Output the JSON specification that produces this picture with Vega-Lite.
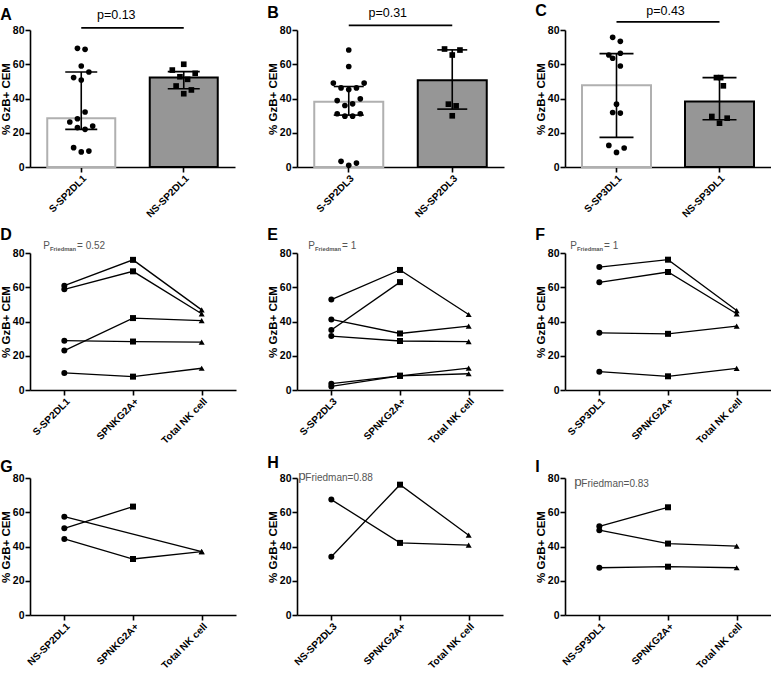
{
"$schema": "https://vega.github.io/schema/vega-lite/v6.json",
"padding": {"left": 0, "top": 2, "right": 0, "bottom": 0},
"background": "white",
"config": {
 "font": "Liberation Sans",
 "view": {"stroke": null},
 "axis": {"grid": false, "domainColor": "black", "domainWidth": 1.6, "tickColor": "black", "tickWidth": 1.6, "tickSize": 5, "labelFont": "Liberation Sans", "labelFontSize": 10.5, "labelFontWeight": "bold", "labelColor": "black", "titleFont": "Liberation Sans", "titleFontSize": 11.5, "titleFontWeight": "bold", "titleColor": "black", "labelPadding": 1},
 "axisX": {"labelAngle": -45, "labelFontSize": 10},
 "axisY": {"values": [0, 20, 40, 60, 80], "titlePadding": 1},
 "title": {"anchor": "start", "frame": "bounds", "fontSize": 16, "fontWeight": "bold", "font": "Liberation Sans", "color": "black", "offset": -2}
},
"resolve": {"scale": {"shape": "independent", "fill": "independent", "stroke": "independent", "xOffset": "independent"}},
"datasets": {
 "barsA": [{"group": "S-SP2DL1", "mean": 28.4, "lo": 22, "hi": 55.5}, {"group": "NS-SP2DL1", "mean": 52.2, "lo": 45.7, "hi": 55.7}],
 "ptsA": [
  {"group": "S-SP2DL1", "v": 69.3, "slot": -1}, {"group": "S-SP2DL1", "v": 68.7, "slot": 1}, {"group": "S-SP2DL1", "v": 59, "slot": 0},
  {"group": "S-SP2DL1", "v": 55.5, "slot": 2}, {"group": "S-SP2DL1", "v": 52.2, "slot": -2}, {"group": "S-SP2DL1", "v": 50.8, "slot": 0},
  {"group": "S-SP2DL1", "v": 32.1, "slot": 1}, {"group": "S-SP2DL1", "v": 28.2, "slot": -1}, {"group": "S-SP2DL1", "v": 26.3, "slot": -3},
  {"group": "S-SP2DL1", "v": 23.9, "slot": 3}, {"group": "S-SP2DL1", "v": 23, "slot": -1}, {"group": "S-SP2DL1", "v": 22, "slot": 1},
  {"group": "S-SP2DL1", "v": 11.3, "slot": -2}, {"group": "S-SP2DL1", "v": 9.3, "slot": 2}, {"group": "S-SP2DL1", "v": 8.8, "slot": 0},
  {"group": "NS-SP2DL1", "v": 60, "slot": 0}, {"group": "NS-SP2DL1", "v": 56.6, "slot": -3}, {"group": "NS-SP2DL1", "v": 54.7, "slot": 3},
  {"group": "NS-SP2DL1", "v": 52.7, "slot": -1}, {"group": "NS-SP2DL1", "v": 51.2, "slot": 1}, {"group": "NS-SP2DL1", "v": 47.3, "slot": -2},
  {"group": "NS-SP2DL1", "v": 45, "slot": 2}, {"group": "NS-SP2DL1", "v": 42.8, "slot": 0}
 ],
 "pA": [{"a": "S-SP2DL1", "b": "NS-SP2DL1", "ly": 81.2, "ty": 86.6, "label": "p=0.13"}],
 "barsB": [{"group": "S-SP2DL3", "mean": 38.1, "lo": 30.3, "hi": 47}, {"group": "NS-SP2DL3", "mean": 50.7, "lo": 33.8, "hi": 68.4}],
 "ptsB": [
  {"group": "S-SP2DL3", "v": 68.3, "slot": 0}, {"group": "S-SP2DL3", "v": 58.7, "slot": 0}, {"group": "S-SP2DL3", "v": 49, "slot": -4},
  {"group": "S-SP2DL3", "v": 46.2, "slot": -2}, {"group": "S-SP2DL3", "v": 45.2, "slot": 0}, {"group": "S-SP2DL3", "v": 46.2, "slot": 2},
  {"group": "S-SP2DL3", "v": 49, "slot": 4}, {"group": "S-SP2DL3", "v": 38.8, "slot": -3}, {"group": "S-SP2DL3", "v": 39.8, "slot": 3},
  {"group": "S-SP2DL3", "v": 35.9, "slot": -1}, {"group": "S-SP2DL3", "v": 36.9, "slot": 1}, {"group": "S-SP2DL3", "v": 31.1, "slot": -3},
  {"group": "S-SP2DL3", "v": 29.7, "slot": -1}, {"group": "S-SP2DL3", "v": 29.7, "slot": 1}, {"group": "S-SP2DL3", "v": 31.1, "slot": 3},
  {"group": "S-SP2DL3", "v": 3.3, "slot": -2}, {"group": "S-SP2DL3", "v": 2.3, "slot": 2}, {"group": "S-SP2DL3", "v": 1, "slot": 0},
  {"group": "NS-SP2DL3", "v": 68.9, "slot": -2}, {"group": "NS-SP2DL3", "v": 68.3, "slot": 2}, {"group": "NS-SP2DL3", "v": 65.4, "slot": 0},
  {"group": "NS-SP2DL3", "v": 36.7, "slot": -1}, {"group": "NS-SP2DL3", "v": 35.7, "slot": 1}, {"group": "NS-SP2DL3", "v": 29.9, "slot": 0}
 ],
 "pB": [{"a": "S-SP2DL3", "b": "NS-SP2DL3", "ly": 82.7, "ty": 87.7, "label": "p=0.31"}],
 "barsC": [{"group": "S-SP3DL1", "mean": 47.8, "lo": 17.3, "hi": 66.2}, {"group": "NS-SP3DL1", "mean": 38.3, "lo": 27.6, "hi": 52.2}],
 "ptsC": [
  {"group": "S-SP3DL1", "v": 75.7, "slot": -1}, {"group": "S-SP3DL1", "v": 73.4, "slot": 1}, {"group": "S-SP3DL1", "v": 65.4, "slot": -2},
  {"group": "S-SP3DL1", "v": 66.4, "slot": 1}, {"group": "S-SP3DL1", "v": 63.5, "slot": -1}, {"group": "S-SP3DL1", "v": 59, "slot": 1},
  {"group": "S-SP3DL1", "v": 36.7, "slot": 0}, {"group": "S-SP3DL1", "v": 31.8, "slot": -1}, {"group": "S-SP3DL1", "v": 31.5, "slot": 1},
  {"group": "S-SP3DL1", "v": 12.6, "slot": -2}, {"group": "S-SP3DL1", "v": 11.1, "slot": 2}, {"group": "S-SP3DL1", "v": 8.5, "slot": 0},
  {"group": "NS-SP3DL1", "v": 52.2, "slot": -0.8}, {"group": "NS-SP3DL1", "v": 52.2, "slot": 0.3}, {"group": "NS-SP3DL1", "v": 47.4, "slot": 1},
  {"group": "NS-SP3DL1", "v": 29.5, "slot": -2}, {"group": "NS-SP3DL1", "v": 28.5, "slot": 2}, {"group": "NS-SP3DL1", "v": 25.6, "slot": 0}
 ],
 "pC": [{"a": "S-SP3DL1", "b": "NS-SP3DL1", "ly": 84.8, "ty": 88.8, "label": "p=0.43"}],
 "D": [
  {"id": 1, "cond": "S-SP2DL1", "v": 60.9}, {"id": 1, "cond": "SPNKG2A+", "v": 76}, {"id": 1, "cond": "Total NK cell", "v": 46.8},
  {"id": 2, "cond": "S-SP2DL1", "v": 58.8}, {"id": 2, "cond": "SPNKG2A+", "v": 69.3}, {"id": 2, "cond": "Total NK cell", "v": 44.5},
  {"id": 3, "cond": "S-SP2DL1", "v": 23}, {"id": 3, "cond": "SPNKG2A+", "v": 42}, {"id": 3, "cond": "Total NK cell", "v": 40.5},
  {"id": 4, "cond": "S-SP2DL1", "v": 28.8}, {"id": 4, "cond": "SPNKG2A+", "v": 28.3}, {"id": 4, "cond": "Total NK cell", "v": 27.9},
  {"id": 5, "cond": "S-SP2DL1", "v": 10}, {"id": 5, "cond": "SPNKG2A+", "v": 7.8}, {"id": 5, "cond": "Total NK cell", "v": 12.7}
 ],
 "annD": [{"cond": "S-SP2DL1", "v": 82.2, "p": "P", "sub": "Friedman", "val": "= 0.52"}],
 "E": [
  {"id": 1, "cond": "S-SP2DL3", "v": 52.8}, {"id": 1, "cond": "SPNKG2A+", "v": 70.1}, {"id": 1, "cond": "Total NK cell", "v": 44.1},
  {"id": 2, "cond": "S-SP2DL3", "v": 41.2}, {"id": 2, "cond": "SPNKG2A+", "v": 33}, {"id": 2, "cond": "Total NK cell", "v": 37.3},
  {"id": 3, "cond": "S-SP2DL3", "v": 35}, {"id": 3, "cond": "SPNKG2A+", "v": 63},
  {"id": 4, "cond": "S-SP2DL3", "v": 31.5}, {"id": 4, "cond": "SPNKG2A+", "v": 28.6}, {"id": 4, "cond": "Total NK cell", "v": 28.2},
  {"id": 5, "cond": "S-SP2DL3", "v": 3.7}, {"id": 5, "cond": "SPNKG2A+", "v": 8.3}, {"id": 5, "cond": "Total NK cell", "v": 12.8},
  {"id": 6, "cond": "S-SP2DL3", "v": 2.1}, {"id": 6, "cond": "SPNKG2A+", "v": 8.3}, {"id": 6, "cond": "Total NK cell", "v": 9.5}
 ],
 "annE": [{"cond": "S-SP2DL3", "v": 82.2, "p": "P", "sub": "Friedman", "val": "= 1"}],
 "F": [
  {"id": 1, "cond": "S-SP3DL1", "v": 71.8}, {"id": 1, "cond": "SPNKG2A+", "v": 76.1}, {"id": 1, "cond": "Total NK cell", "v": 46.4},
  {"id": 2, "cond": "S-SP3DL1", "v": 62.9}, {"id": 2, "cond": "SPNKG2A+", "v": 68.9}, {"id": 2, "cond": "Total NK cell", "v": 44.5},
  {"id": 3, "cond": "S-SP3DL1", "v": 33.4}, {"id": 3, "cond": "SPNKG2A+", "v": 32.8}, {"id": 3, "cond": "Total NK cell", "v": 37.3},
  {"id": 4, "cond": "S-SP3DL1", "v": 10.7}, {"id": 4, "cond": "SPNKG2A+", "v": 8}, {"id": 4, "cond": "Total NK cell", "v": 12.6}
 ],
 "annF": [{"cond": "S-SP3DL1", "v": 82.2, "p": "P", "sub": "Friedman", "val": "= 1"}],
 "G": [
  {"id": 1, "cond": "NS-SP2DL1", "v": 57.4}, {"id": 1, "cond": "Total NK cell", "v": 37},
  {"id": 2, "cond": "NS-SP2DL1", "v": 50.6}, {"id": 2, "cond": "SPNKG2A+", "v": 63.3},
  {"id": 3, "cond": "NS-SP2DL1", "v": 44.4}, {"id": 3, "cond": "SPNKG2A+", "v": 32.7}, {"id": 3, "cond": "Total NK cell", "v": 37}
 ],
 "H": [
  {"id": 1, "cond": "NS-SP2DL3", "v": 67.4}, {"id": 1, "cond": "SPNKG2A+", "v": 42.1}, {"id": 1, "cond": "Total NK cell", "v": 40.8},
  {"id": 2, "cond": "NS-SP2DL3", "v": 34}, {"id": 2, "cond": "SPNKG2A+", "v": 76.1}, {"id": 2, "cond": "Total NK cell", "v": 46.6}
 ],
 "annH": [{"cond": "NS-SP2DL3", "v": 79, "p": "p", "sub": "Friedman=0.88"}],
 "I": [
  {"id": 1, "cond": "NS-SP3DL1", "v": 51.8}, {"id": 1, "cond": "SPNKG2A+", "v": 62.9},
  {"id": 2, "cond": "NS-SP3DL1", "v": 49.5}, {"id": 2, "cond": "SPNKG2A+", "v": 41.7}, {"id": 2, "cond": "Total NK cell", "v": 40.2},
  {"id": 3, "cond": "NS-SP3DL1", "v": 27.6}, {"id": 3, "cond": "SPNKG2A+", "v": 28.2}, {"id": 3, "cond": "Total NK cell", "v": 27.6}
 ],
 "annI": [{"cond": "NS-SP3DL1", "v": 75.5, "p": "p", "sub": "Friedman=0.83"}]
},
"columns": 3,
"spacing": {"row": 8, "column": 31},
"concat": [
 {"width": 205, "height": 137, "title": {"text": "A", "offset": -14},
  "layer": [
   {"data": {"name": "barsA"}, "mark": {"type": "bar", "strokeWidth": 2, "width": 68},
    "encoding": {"x": {"field": "group", "type": "nominal", "scale": {"domain": ["S-SP2DL1", "NS-SP2DL1"], "paddingInner": 0.33, "paddingOuter": 0.165}, "title": null},
     "y": {"field": "mean", "type": "quantitative", "scale": {"domain": [0, 80]}, "title": "% GzB+ CEM"},
     "fill": {"field": "group", "type": "nominal", "scale": {"domain": ["S-SP2DL1", "NS-SP2DL1"], "range": ["#ffffff", "#969696"]}, "legend": null},
     "stroke": {"field": "group", "type": "nominal", "scale": {"domain": ["S-SP2DL1", "NS-SP2DL1"], "range": ["#b0b0b0", "#000000"]}, "legend": null}}},
   {"data": {"name": "ptsA"}, "mark": {"type": "point", "filled": true, "color": "black", "opacity": 1, "size": 32},
    "encoding": {"x": {"field": "group", "type": "nominal", "title": null},
     "xOffset": {"field": "slot", "type": "quantitative", "scale": {"domain": [-9, 9]}},
     "y": {"field": "v", "type": "quantitative", "title": "% GzB+ CEM"},
     "shape": {"field": "group", "type": "nominal", "scale": {"domain": ["S-SP2DL1", "NS-SP2DL1"], "range": ["circle", "square"]}, "legend": null}}},
   {"data": {"name": "barsA"}, "mark": {"type": "rule", "strokeWidth": 1.6, "color": "black"},
    "encoding": {"x": {"field": "group", "type": "nominal", "title": null},
     "y": {"field": "lo", "type": "quantitative", "title": "% GzB+ CEM"}, "y2": {"field": "hi"}}},
   {"data": {"name": "barsA"}, "mark": {"type": "tick", "size": 32, "thickness": 1.6, "color": "black", "opacity": 1},
    "encoding": {"x": {"field": "group", "type": "nominal", "title": null},
     "y": {"field": "lo", "type": "quantitative", "title": "% GzB+ CEM"}}},
   {"data": {"name": "barsA"}, "mark": {"type": "tick", "size": 32, "thickness": 1.6, "color": "black", "opacity": 1},
    "encoding": {"x": {"field": "group", "type": "nominal", "title": null},
     "y": {"field": "hi", "type": "quantitative", "title": "% GzB+ CEM"}}},
   {"data": {"name": "pA"}, "mark": {"type": "rule", "strokeWidth": 1.8, "color": "black"},
    "encoding": {"x": {"field": "a", "type": "nominal", "title": null}, "x2": {"field": "b"},
     "y": {"field": "ly", "type": "quantitative", "title": "% GzB+ CEM"}}},
   {"data": {"name": "pA"}, "mark": {"type": "text", "fontSize": 12.5, "dx": 35, "align": "center", "baseline": "alphabetic"},
    "encoding": {"x": {"field": "a", "type": "nominal", "title": null},
     "y": {"field": "ty", "type": "quantitative", "title": "% GzB+ CEM"}, "text": {"field": "label"}}}
  ]},
 {"width": 207, "height": 137, "title": {"text": "B", "offset": -14},
  "layer": [
   {"data": {"name": "barsB"}, "mark": {"type": "bar", "strokeWidth": 2, "width": 69},
    "encoding": {"x": {"field": "group", "type": "nominal", "scale": {"domain": ["S-SP2DL3", "NS-SP2DL3"], "paddingInner": 0.33, "paddingOuter": 0.165}, "title": null},
     "y": {"field": "mean", "type": "quantitative", "scale": {"domain": [0, 80]}, "title": "% GzB+ CEM"},
     "fill": {"field": "group", "type": "nominal", "scale": {"domain": ["S-SP2DL3", "NS-SP2DL3"], "range": ["#ffffff", "#969696"]}, "legend": null},
     "stroke": {"field": "group", "type": "nominal", "scale": {"domain": ["S-SP2DL3", "NS-SP2DL3"], "range": ["#b0b0b0", "#000000"]}, "legend": null}}},
   {"data": {"name": "ptsB"}, "mark": {"type": "point", "filled": true, "color": "black", "opacity": 1, "size": 32},
    "encoding": {"x": {"field": "group", "type": "nominal", "title": null},
     "xOffset": {"field": "slot", "type": "quantitative", "scale": {"domain": [-9, 9]}},
     "y": {"field": "v", "type": "quantitative", "title": "% GzB+ CEM"},
     "shape": {"field": "group", "type": "nominal", "scale": {"domain": ["S-SP2DL3", "NS-SP2DL3"], "range": ["circle", "square"]}, "legend": null}}},
   {"data": {"name": "barsB"}, "mark": {"type": "rule", "strokeWidth": 1.6, "color": "black"},
    "encoding": {"x": {"field": "group", "type": "nominal", "title": null},
     "y": {"field": "lo", "type": "quantitative", "title": "% GzB+ CEM"}, "y2": {"field": "hi"}}},
   {"data": {"name": "barsB"}, "mark": {"type": "tick", "size": 30, "thickness": 1.6, "color": "black", "opacity": 1},
    "encoding": {"x": {"field": "group", "type": "nominal", "title": null},
     "y": {"field": "lo", "type": "quantitative", "title": "% GzB+ CEM"}}},
   {"data": {"name": "barsB"}, "mark": {"type": "tick", "size": 30, "thickness": 1.6, "color": "black", "opacity": 1},
    "encoding": {"x": {"field": "group", "type": "nominal", "title": null},
     "y": {"field": "hi", "type": "quantitative", "title": "% GzB+ CEM"}}},
   {"data": {"name": "pB"}, "mark": {"type": "rule", "strokeWidth": 1.8, "color": "black"},
    "encoding": {"x": {"field": "a", "type": "nominal", "title": null}, "x2": {"field": "b"},
     "y": {"field": "ly", "type": "quantitative", "title": "% GzB+ CEM"}}},
   {"data": {"name": "pB"}, "mark": {"type": "text", "fontSize": 12.5, "dx": 39, "align": "center", "baseline": "alphabetic"},
    "encoding": {"x": {"field": "a", "type": "nominal", "title": null},
     "y": {"field": "ty", "type": "quantitative", "title": "% GzB+ CEM"}, "text": {"field": "label"}}}
  ]},
 {"width": 206, "height": 137, "title": {"text": "C", "offset": -14},
  "layer": [
   {"data": {"name": "barsC"}, "mark": {"type": "bar", "strokeWidth": 2, "width": 69},
    "encoding": {"x": {"field": "group", "type": "nominal", "scale": {"domain": ["S-SP3DL1", "NS-SP3DL1"], "paddingInner": 0.33, "paddingOuter": 0.165}, "title": null},
     "y": {"field": "mean", "type": "quantitative", "scale": {"domain": [0, 80]}, "title": "% GzB+ CEM"},
     "fill": {"field": "group", "type": "nominal", "scale": {"domain": ["S-SP3DL1", "NS-SP3DL1"], "range": ["#ffffff", "#969696"]}, "legend": null},
     "stroke": {"field": "group", "type": "nominal", "scale": {"domain": ["S-SP3DL1", "NS-SP3DL1"], "range": ["#b0b0b0", "#000000"]}, "legend": null}}},
   {"data": {"name": "ptsC"}, "mark": {"type": "point", "filled": true, "color": "black", "opacity": 1, "size": 32},
    "encoding": {"x": {"field": "group", "type": "nominal", "title": null},
     "xOffset": {"field": "slot", "type": "quantitative", "scale": {"domain": [-9, 9]}},
     "y": {"field": "v", "type": "quantitative", "title": "% GzB+ CEM"},
     "shape": {"field": "group", "type": "nominal", "scale": {"domain": ["S-SP3DL1", "NS-SP3DL1"], "range": ["circle", "square"]}, "legend": null}}},
   {"data": {"name": "barsC"}, "mark": {"type": "rule", "strokeWidth": 1.6, "color": "black"},
    "encoding": {"x": {"field": "group", "type": "nominal", "title": null},
     "y": {"field": "lo", "type": "quantitative", "title": "% GzB+ CEM"}, "y2": {"field": "hi"}}},
   {"data": {"name": "barsC"}, "mark": {"type": "tick", "size": 34, "thickness": 1.6, "color": "black", "opacity": 1},
    "encoding": {"x": {"field": "group", "type": "nominal", "title": null},
     "y": {"field": "lo", "type": "quantitative", "title": "% GzB+ CEM"}}},
   {"data": {"name": "barsC"}, "mark": {"type": "tick", "size": 34, "thickness": 1.6, "color": "black", "opacity": 1},
    "encoding": {"x": {"field": "group", "type": "nominal", "title": null},
     "y": {"field": "hi", "type": "quantitative", "title": "% GzB+ CEM"}}},
   {"data": {"name": "pC"}, "mark": {"type": "rule", "strokeWidth": 1.8, "color": "black"},
    "encoding": {"x": {"field": "a", "type": "nominal", "title": null}, "x2": {"field": "b"},
     "y": {"field": "ly", "type": "quantitative", "title": "% GzB+ CEM"}}},
   {"data": {"name": "pC"}, "mark": {"type": "text", "fontSize": 12.5, "dx": 49, "align": "center", "baseline": "alphabetic"},
    "encoding": {"x": {"field": "a", "type": "nominal", "title": null},
     "y": {"field": "ty", "type": "quantitative", "title": "% GzB+ CEM"}, "text": {"field": "label"}}}
  ]},
 {"width": 206, "height": 137, "title": {"text": "D"},
  "layer": [
   {"data": {"name": "D"}, "mark": {"type": "line", "color": "black", "strokeWidth": 1.3},
    "encoding": {"x": {"field": "cond", "type": "nominal", "scale": {"domain": ["S-SP2DL1", "SPNKG2A+", "Total NK cell"]}, "title": null},
     "y": {"field": "v", "type": "quantitative", "scale": {"domain": [0, 80]}, "title": "% GzB+ CEM"}, "detail": {"field": "id"}}},
   {"data": {"name": "D"}, "mark": {"type": "point", "filled": true, "color": "black", "opacity": 1, "size": 36},
    "encoding": {"x": {"field": "cond", "type": "nominal", "title": null},
     "y": {"field": "v", "type": "quantitative", "title": "% GzB+ CEM"},
     "shape": {"field": "cond", "type": "nominal", "scale": {"domain": ["S-SP2DL1", "SPNKG2A+", "Total NK cell"], "range": ["circle", "square", "triangle-up"]}, "legend": null}}},
   {"data": {"name": "annD"}, "mark": {"type": "text", "fontSize": 10, "dx": -21, "align": "left", "baseline": "alphabetic", "color": "#555555"},
    "encoding": {"x": {"field": "cond", "type": "nominal", "title": null},
     "y": {"field": "v", "type": "quantitative", "title": "% GzB+ CEM"}, "text": {"field": "p"}}},
   {"data": {"name": "annD"}, "mark": {"type": "text", "fontSize": 5.8, "fontWeight": "bold", "dx": -14.3, "dy": 2, "align": "left", "baseline": "alphabetic", "color": "#555555"},
    "encoding": {"x": {"field": "cond", "type": "nominal", "title": null},
     "y": {"field": "v", "type": "quantitative", "title": "% GzB+ CEM"}, "text": {"field": "sub"}}},
   {"data": {"name": "annD"}, "mark": {"type": "text", "fontSize": 10, "dx": 12.7, "align": "left", "baseline": "alphabetic", "color": "#555555"},
    "encoding": {"x": {"field": "cond", "type": "nominal", "title": null},
     "y": {"field": "v", "type": "quantitative", "title": "% GzB+ CEM"}, "text": {"field": "val"}}}
  ]},
 {"width": 206, "height": 137, "title": {"text": "E"},
  "layer": [
   {"data": {"name": "E"}, "mark": {"type": "line", "color": "black", "strokeWidth": 1.3},
    "encoding": {"x": {"field": "cond", "type": "nominal", "scale": {"domain": ["S-SP2DL3", "SPNKG2A+", "Total NK cell"]}, "title": null},
     "y": {"field": "v", "type": "quantitative", "scale": {"domain": [0, 80]}, "title": "% GzB+ CEM"}, "detail": {"field": "id"}}},
   {"data": {"name": "E"}, "mark": {"type": "point", "filled": true, "color": "black", "opacity": 1, "size": 36},
    "encoding": {"x": {"field": "cond", "type": "nominal", "title": null},
     "y": {"field": "v", "type": "quantitative", "title": "% GzB+ CEM"},
     "shape": {"field": "cond", "type": "nominal", "scale": {"domain": ["S-SP2DL3", "SPNKG2A+", "Total NK cell"], "range": ["circle", "square", "triangle-up"]}, "legend": null}}},
   {"data": {"name": "annE"}, "mark": {"type": "text", "fontSize": 10, "dx": -23, "align": "left", "baseline": "alphabetic", "color": "#555555"},
    "encoding": {"x": {"field": "cond", "type": "nominal", "title": null},
     "y": {"field": "v", "type": "quantitative", "title": "% GzB+ CEM"}, "text": {"field": "p"}}},
   {"data": {"name": "annE"}, "mark": {"type": "text", "fontSize": 5.8, "fontWeight": "bold", "dx": -16.3, "dy": 2, "align": "left", "baseline": "alphabetic", "color": "#555555"},
    "encoding": {"x": {"field": "cond", "type": "nominal", "title": null},
     "y": {"field": "v", "type": "quantitative", "title": "% GzB+ CEM"}, "text": {"field": "sub"}}},
   {"data": {"name": "annE"}, "mark": {"type": "text", "fontSize": 10, "dx": 10.7, "align": "left", "baseline": "alphabetic", "color": "#555555"},
    "encoding": {"x": {"field": "cond", "type": "nominal", "title": null},
     "y": {"field": "v", "type": "quantitative", "title": "% GzB+ CEM"}, "text": {"field": "val"}}}
  ]},
 {"width": 206, "height": 137, "title": {"text": "F"},
  "layer": [
   {"data": {"name": "F"}, "mark": {"type": "line", "color": "black", "strokeWidth": 1.3},
    "encoding": {"x": {"field": "cond", "type": "nominal", "scale": {"domain": ["S-SP3DL1", "SPNKG2A+", "Total NK cell"]}, "title": null},
     "y": {"field": "v", "type": "quantitative", "scale": {"domain": [0, 80]}, "title": "% GzB+ CEM"}, "detail": {"field": "id"}}},
   {"data": {"name": "F"}, "mark": {"type": "point", "filled": true, "color": "black", "opacity": 1, "size": 36},
    "encoding": {"x": {"field": "cond", "type": "nominal", "title": null},
     "y": {"field": "v", "type": "quantitative", "title": "% GzB+ CEM"},
     "shape": {"field": "cond", "type": "nominal", "scale": {"domain": ["S-SP3DL1", "SPNKG2A+", "Total NK cell"], "range": ["circle", "square", "triangle-up"]}, "legend": null}}},
   {"data": {"name": "annF"}, "mark": {"type": "text", "fontSize": 10, "dx": -29, "align": "left", "baseline": "alphabetic", "color": "#555555"},
    "encoding": {"x": {"field": "cond", "type": "nominal", "title": null},
     "y": {"field": "v", "type": "quantitative", "title": "% GzB+ CEM"}, "text": {"field": "p"}}},
   {"data": {"name": "annF"}, "mark": {"type": "text", "fontSize": 5.8, "fontWeight": "bold", "dx": -22.3, "dy": 2, "align": "left", "baseline": "alphabetic", "color": "#555555"},
    "encoding": {"x": {"field": "cond", "type": "nominal", "title": null},
     "y": {"field": "v", "type": "quantitative", "title": "% GzB+ CEM"}, "text": {"field": "sub"}}},
   {"data": {"name": "annF"}, "mark": {"type": "text", "fontSize": 10, "dx": 4.7, "align": "left", "baseline": "alphabetic", "color": "#555555"},
    "encoding": {"x": {"field": "cond", "type": "nominal", "title": null},
     "y": {"field": "v", "type": "quantitative", "title": "% GzB+ CEM"}, "text": {"field": "val"}}}
  ]},
 {"width": 206, "height": 137, "title": {"text": "G"},
  "layer": [
   {"data": {"name": "G"}, "mark": {"type": "line", "color": "black", "strokeWidth": 1.3},
    "encoding": {"x": {"field": "cond", "type": "nominal", "scale": {"domain": ["NS-SP2DL1", "SPNKG2A+", "Total NK cell"]}, "title": null},
     "y": {"field": "v", "type": "quantitative", "scale": {"domain": [0, 80]}, "title": "% GzB+ CEM"}, "detail": {"field": "id"}}},
   {"data": {"name": "G"}, "mark": {"type": "point", "filled": true, "color": "black", "opacity": 1, "size": 36},
    "encoding": {"x": {"field": "cond", "type": "nominal", "title": null},
     "y": {"field": "v", "type": "quantitative", "title": "% GzB+ CEM"},
     "shape": {"field": "cond", "type": "nominal", "scale": {"domain": ["NS-SP2DL1", "SPNKG2A+", "Total NK cell"], "range": ["circle", "square", "triangle-up"]}, "legend": null}}}
  ]},
 {"width": 206, "height": 137, "title": {"text": "H"},
  "layer": [
   {"data": {"name": "H"}, "mark": {"type": "line", "color": "black", "strokeWidth": 1.3},
    "encoding": {"x": {"field": "cond", "type": "nominal", "scale": {"domain": ["NS-SP2DL3", "SPNKG2A+", "Total NK cell"]}, "title": null},
     "y": {"field": "v", "type": "quantitative", "scale": {"domain": [0, 80]}, "title": "% GzB+ CEM"}, "detail": {"field": "id"}}},
   {"data": {"name": "H"}, "mark": {"type": "point", "filled": true, "color": "black", "opacity": 1, "size": 36},
    "encoding": {"x": {"field": "cond", "type": "nominal", "title": null},
     "y": {"field": "v", "type": "quantitative", "title": "% GzB+ CEM"},
     "shape": {"field": "cond", "type": "nominal", "scale": {"domain": ["NS-SP2DL3", "SPNKG2A+", "Total NK cell"], "range": ["circle", "square", "triangle-up"]}, "legend": null}}},
   {"data": {"name": "annH"}, "mark": {"type": "text", "fontSize": 13.5, "dx": -33, "align": "left", "baseline": "alphabetic", "color": "#555555"},
    "encoding": {"x": {"field": "cond", "type": "nominal", "title": null},
     "y": {"field": "v", "type": "quantitative", "title": "% GzB+ CEM"}, "text": {"field": "p"}}},
   {"data": {"name": "annH"}, "mark": {"type": "text", "fontSize": 10, "dx": -26, "dy": 1.5, "align": "left", "baseline": "alphabetic", "color": "#555555"},
    "encoding": {"x": {"field": "cond", "type": "nominal", "title": null},
     "y": {"field": "v", "type": "quantitative", "title": "% GzB+ CEM"}, "text": {"field": "sub"}}}
  ]},
 {"width": 206, "height": 137, "title": {"text": "I"},
  "layer": [
   {"data": {"name": "I"}, "mark": {"type": "line", "color": "black", "strokeWidth": 1.3},
    "encoding": {"x": {"field": "cond", "type": "nominal", "scale": {"domain": ["NS-SP3DL1", "SPNKG2A+", "Total NK cell"]}, "title": null},
     "y": {"field": "v", "type": "quantitative", "scale": {"domain": [0, 80]}, "title": "% GzB+ CEM"}, "detail": {"field": "id"}}},
   {"data": {"name": "I"}, "mark": {"type": "point", "filled": true, "color": "black", "opacity": 1, "size": 36},
    "encoding": {"x": {"field": "cond", "type": "nominal", "title": null},
     "y": {"field": "v", "type": "quantitative", "title": "% GzB+ CEM"},
     "shape": {"field": "cond", "type": "nominal", "scale": {"domain": ["NS-SP3DL1", "SPNKG2A+", "Total NK cell"], "range": ["circle", "square", "triangle-up"]}, "legend": null}}},
   {"data": {"name": "annI"}, "mark": {"type": "text", "fontSize": 13.5, "dx": -25, "align": "left", "baseline": "alphabetic", "color": "#555555"},
    "encoding": {"x": {"field": "cond", "type": "nominal", "title": null},
     "y": {"field": "v", "type": "quantitative", "title": "% GzB+ CEM"}, "text": {"field": "p"}}},
   {"data": {"name": "annI"}, "mark": {"type": "text", "fontSize": 10, "dx": -18, "dy": 1.5, "align": "left", "baseline": "alphabetic", "color": "#555555"},
    "encoding": {"x": {"field": "cond", "type": "nominal", "title": null},
     "y": {"field": "v", "type": "quantitative", "title": "% GzB+ CEM"}, "text": {"field": "sub"}}}
  ]}
]
}
